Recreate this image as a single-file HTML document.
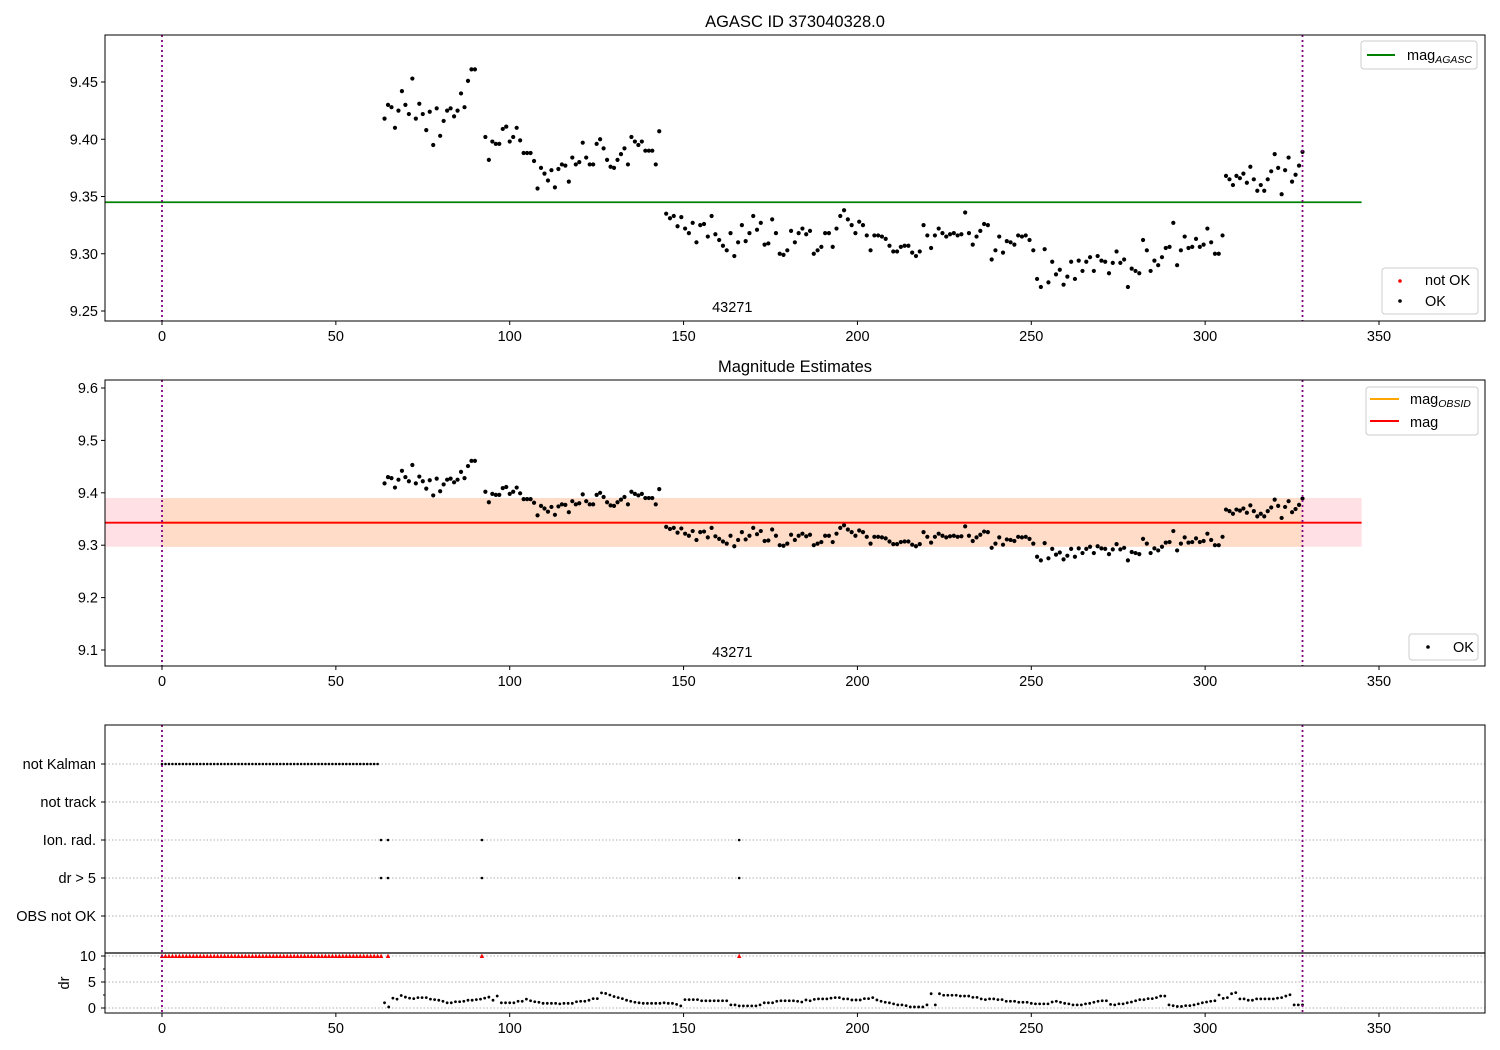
<!DOCTYPE html>
<html><head><meta charset="utf-8">
<style>
html,body{margin:0;padding:0;background:#fff;}
svg{display:block;font-family:"Liberation Sans","DejaVu Sans",sans-serif;}
</style></head>
<body>
<svg id="chart" width="1500" height="1050" viewBox="0 0 1500 1050" xmlns="http://www.w3.org/2000/svg"></svg>
<script>
// ---- data ----
const magSeg1 = [9.418,9.430,9.428,9.410,9.425,9.442,9.430,9.422,9.453,9.418,9.431,9.422,9.408,9.424,9.395,9.427,9.403,9.416,9.425,9.427,9.420,9.425,9.440,9.428,9.451,9.461,9.461];
const magSeg2 = [9.402,9.382,9.398,9.396,9.396,9.409,9.411,9.398,9.402,9.410,9.399,9.388,9.388,9.388,9.381,9.357,9.375,9.370,9.364,9.373,9.358,9.374,9.378,9.377,9.363,9.384,9.378,9.380,9.397,9.384,9.378,9.378,9.396,9.400,9.392,9.382,9.376,9.375,9.382,9.387,9.392,9.378,9.402,9.398,9.395,9.398,9.390,9.390,9.390,9.378,9.407];
const magSeg3 = [9.335,9.331,9.333,9.324,9.332,9.322,9.318,9.327,9.310,9.325,9.326,9.315,9.333,9.317,9.312,9.307,9.303,9.318,9.298,9.310,9.325,9.311,9.318,9.333,9.321,9.327,9.308,9.309,9.330,9.318,9.300,9.299,9.303,9.320,9.310,9.318,9.322,9.317,9.320,9.300,9.303,9.306,9.318,9.318,9.306,9.322,9.333,9.338,9.330,9.325,9.318,9.328,9.325,9.316,9.303,9.316,9.316,9.315,9.313,9.307,9.302,9.302,9.306,9.307,9.307,9.301,9.298,9.302,9.325,9.316,9.305,9.316,9.322,9.318,9.315,9.317,9.318,9.316,9.317,9.336,9.318,9.308,9.315,9.320,9.326,9.325,9.295,9.303,9.315,9.301,9.311,9.310,9.308,9.316,9.315,9.316,9.312,9.303,9.278,9.271,9.304,9.275,9.293,9.282,9.286,9.273,9.280,9.293,9.278,9.294,9.285,9.293,9.297,9.285,9.298,9.294,9.293,9.283,9.292,9.302,9.292,9.295,9.271,9.287,9.285,9.283,9.312,9.303,9.285,9.294,9.290,9.297,9.305,9.306,9.327,9.290,9.303,9.315,9.305,9.306,9.313,9.306,9.308,9.322,9.310,9.300,9.300,9.316];
const magSeg4 = [9.368,9.365,9.360,9.368,9.366,9.370,9.362,9.376,9.365,9.355,9.360,9.355,9.365,9.372,9.387,9.375,9.352,9.373,9.384,9.363,9.369,9.377,9.389];
const segStarts = [64, 93, 145, 306];
const segEnds = [90, 143, 305, 328];
const magAgasc = 9.345;
const magMean = 9.343;
const magLow = 9.297;
const magHigh = 9.390;
const obsStart = 0;
const obsEnd = 328;
const notKalmanStart = 0;
const notKalmanEnd = 62;
const ionRadTimes = [63, 65, 92, 166];
const drOver5Times = [63, 65, 92, 166];
const drHighTimes = [63, 65, 92, 166];
const drStart = 64;
const drEnd = 328;
const drValues = [1.0,0.2,1.9,1.7,2.4,2.1,1.9,1.8,2.0,2.0,2.0,1.7,1.6,1.5,1.3,1.0,1.0,1.2,1.2,1.3,1.5,1.5,1.6,1.7,1.9,2.1,1.5,2.3,1.0,1.0,1.0,1.0,1.3,1.3,1.7,1.4,1.2,1.1,0.9,0.9,0.9,0.9,0.8,0.9,0.9,0.9,1.2,1.3,1.3,1.5,1.8,1.8,2.9,2.8,2.5,2.2,2.0,1.8,1.5,1.3,1.1,1.0,0.9,0.9,0.9,0.9,0.9,1.0,0.9,0.9,0.7,0.4,1.6,1.6,1.6,1.6,1.4,1.4,1.4,1.4,1.4,1.4,1.4,0.6,0.6,0.4,0.4,0.4,0.4,0.4,0.6,1.0,1.0,
1.0,1.3,1.4,1.4,1.4,1.4,1.3,1.15,1.55,1.4,1.65,1.75,1.75,1.75,1.9,2.0,2.0,1.75,1.75,1.55,1.55,1.55,1.8,1.8,2.0,1.55,1.3,1.1,1.0,0.8,0.6,0.6,0.45,0.2,0.2,0.2,0.2,0.6,2.75,0.6,2.75,2.45,2.45,2.45,2.45,2.3,2.3,2.3,2.05,2.05,1.75,1.6,1.75,1.75,1.6,1.6,1.3,1.3,1.3,1.1,1.1,1.1,0.9,0.8,0.8,0.8,0.8,1.15,1.3,1.1,0.9,0.8,0.6,0.6,0.6,0.8,0.9,1.1,1.3,1.4,1.4,0.7,0.6,0.8,0.8,1.0,1.15,1.4,1.6,1.6,1.8,1.8,2.0,2.3,2.3,0.6,0.45,0.3,0.3,0.45,0.45,0.6,0.8,1.0,1.15,1.3,1.4,2.5,1.85,2.0,2.75,2.95,1.75,1.75,1.5,1.5,1.75,1.75,1.75,1.75,1.75,1.9,2.0,2.3,2.55,0.6,0.6,0.6];
const xTicks = [0, 50, 100, 150, 200, 250, 300, 350];
const y1Ticks = [9.25, 9.30, 9.35, 9.40, 9.45];
const y2Ticks = [9.1, 9.2, 9.3, 9.4, 9.5, 9.6];
const flagLabels = ["not Kalman", "not track", "Ion. rad.", "dr > 5", "OBS not OK"];
const drTicks = [0, 5, 10];

// ---- layout ----
const NS = "http://www.w3.org/2000/svg";
const svg = document.getElementById('chart');
const L = 105, R = 1485;
const FS = 14.5;
const xScale = v => 162 + (v) * (1379 - 162) / 350;
const y1 = v => 82 + (9.45 - v) * (311 - 82) / 0.2;
const y2 = v => 388 + (9.6 - v) * (650 - 388) / 0.5;
const yFlag = i => 764 + i * 38;
const yDr = v => 1008 - v * (1008 - 956) / 10;

function el(tag, attrs, parent) {
  const e = document.createElementNS(NS, tag);
  for (const k in attrs) e.setAttribute(k, attrs[k]);
  (parent || svg).appendChild(e);
  return e;
}
function txt(s, x, y, attrs, parent) {
  const t = el('text', Object.assign({x: x, y: y, 'font-size': FS, fill: '#000'}, attrs || {}), parent);
  t.textContent = s;
  return t;
}
function segXs(k, n) {
  const a = segStarts[k], b = segEnds[k];
  return i => (n > 1 ? a + i * (b - a) / (n - 1) : a);
}
const segs = [magSeg1, magSeg2, magSeg3, magSeg4];

function xAxis(g, yb) {
  xTicks.forEach(t => {
    const x = xScale(t);
    el('line', {x1: x, x2: x, y1: yb, y2: yb + 4, stroke: '#000', 'stroke-width': 1}, g);
    const lb = txt(String(t), x, yb + 20, {'text-anchor': 'middle'}, g);
    
    
  });
}
function vlines(g, top, bot) {
  [obsStart, obsEnd].forEach(t => {
    const ln = el('line', {x1: xScale(t), x2: xScale(t), y1: top, y2: bot, stroke: '#800080', 'stroke-width': 1.8, 'stroke-dasharray': '2,3'}, g);
    
    
  });
}
function magPoints(g, yf) {
  segs.forEach((arr, k) => {
    const xf = segXs(k, arr.length);
    arr.forEach((v, i) => {
      const c = el('circle', {cx: xScale(xf(i)), cy: yf(v), r: 2.1, fill: '#000'}, g);
      
      
    });
  });
}

// ---- panel 1 ----
const p1 = el('g', {}, svg);


txt('AGASC ID 373040328.0', 795, 27, {'text-anchor': 'middle', 'font-size': 16.5}, p1);
y1Ticks.forEach(t => {
  const y = y1(t);
  el('line', {x1: L - 4, x2: L, y1: y, y2: y, stroke: '#000'}, p1);
  txt(t.toFixed(2), L - 7, y + 5, {'text-anchor': 'end'}, p1);
});
const agl = el('line', {x1: xScale(-16.4), x2: xScale(345), y1: y1(magAgasc), y2: y1(magAgasc), stroke: '#008000', 'stroke-width': 1.8}, p1);


magPoints(p1, y1);
vlines(p1, 35, 321);
txt('43271', xScale(164), 312, {'text-anchor': 'middle'}, p1);
el('rect', {x: L, y: 35, width: R - L, height: 286, fill: 'none', stroke: '#000', 'stroke-width': 1}, p1);
xAxis(p1, 321);
// legends
const lg1 = el('g', {}, p1);


el('rect', {x: 1361, y: 41, width: 116, height: 28, rx: 3, fill: '#fff', stroke: '#ccc'}, lg1);
el('line', {x1: 1367, x2: 1395, y1: 55, y2: 55, stroke: '#008000', 'stroke-width': 2}, lg1);
const t1 = txt('mag', 1407, 60, {}, lg1);
el('tspan', {'font-size': 10.5, 'font-style': 'italic', dy: 3}, t1).textContent = 'AGASC';
const lg2 = el('g', {}, p1);


el('rect', {x: 1382, y: 268, width: 96, height: 46, rx: 3, fill: '#fff', stroke: '#ccc'}, lg2);
el('circle', {cx: 1400, cy: 281, r: 1.8, fill: '#f00'}, lg2);
txt('not OK', 1425, 285, {}, lg2);
el('circle', {cx: 1400, cy: 301, r: 1.8, fill: '#000'}, lg2);
txt('OK', 1425, 306, {}, lg2);

// ---- panel 2 ----
const p2 = el('g', {}, svg);


txt('Magnitude Estimates', 795, 372, {'text-anchor': 'middle', 'font-size': 16.5}, p2);
y2Ticks.forEach(t => {
  const y = y2(t);
  el('line', {x1: L - 4, x2: L, y1: y, y2: y, stroke: '#000'}, p2);
  txt(t.toFixed(1), L - 7, y + 5, {'text-anchor': 'end'}, p2);
});
const band1 = el('rect', {x: xScale(-16.4), y: y2(magHigh), width: xScale(345) - xScale(-16.4), height: y2(magLow) - y2(magHigh), fill: '#ffe0e4'}, p2);


const band2 = el('rect', {x: xScale(obsStart), y: y2(magHigh), width: xScale(obsEnd) - xScale(obsStart), height: y2(magLow) - y2(magHigh), fill: '#ffdcc8'}, p2);


el('line', {x1: xScale(obsStart), x2: xScale(obsEnd), y1: y2(magMean), y2: y2(magMean), stroke: '#ffa500', 'stroke-width': 1.8}, p2);
const ml = el('line', {x1: xScale(-16.4), x2: xScale(345), y1: y2(magMean), y2: y2(magMean), stroke: '#f00', 'stroke-width': 1.8}, p2);


magPoints(p2, y2);
vlines(p2, 380, 666);
txt('43271', xScale(164), 657, {'text-anchor': 'middle'}, p2);
el('rect', {x: L, y: 380, width: R - L, height: 286, fill: 'none', stroke: '#000'}, p2);
xAxis(p2, 666);
const lg3 = el('g', {}, p2);


el('rect', {x: 1366, y: 387, width: 112, height: 48, rx: 3, fill: '#fff', stroke: '#ccc'}, lg3);
el('line', {x1: 1370, x2: 1399, y1: 399, y2: 399, stroke: '#ffa500', 'stroke-width': 2}, lg3);
const t3 = txt('mag', 1410, 404, {}, lg3);
el('tspan', {'font-size': 10.5, 'font-style': 'italic', dy: 3}, t3).textContent = 'OBSID';
el('line', {x1: 1370, x2: 1399, y1: 421, y2: 421, stroke: '#f00', 'stroke-width': 2}, lg3);
txt('mag', 1410, 427, {}, lg3);
const lg4 = el('g', {}, p2);


el('rect', {x: 1409, y: 634, width: 69, height: 26, rx: 3, fill: '#fff', stroke: '#ccc'}, lg4);
el('circle', {cx: 1428, cy: 647, r: 1.8, fill: '#000'}, lg4);
txt('OK', 1453, 652, {}, lg4);

// ---- panel 3 ----
const p3 = el('g', {}, svg);


flagLabels.forEach((s, i) => {
  const y = yFlag(i);
  el('line', {x1: L, x2: R, y1: y, y2: y, stroke: '#b0b0b0', 'stroke-width': 1, 'stroke-dasharray': '1.5,2'}, p3);
  el('line', {x1: L - 4, x2: L, y1: y, y2: y, stroke: '#000'}, p3);
  const lb = txt(s, L - 9, y + 5, {'text-anchor': 'end'}, p3);
  
  
});
drTicks.forEach(t => {
  const y = yDr(t);
  el('line', {x1: L, x2: R, y1: y, y2: y, stroke: '#b0b0b0', 'stroke-width': 1, 'stroke-dasharray': '1.5,2'}, p3);
  el('line', {x1: L - 4, x2: L, y1: y, y2: y, stroke: '#000'}, p3);
  txt(String(t), L - 9, y + 5, {'text-anchor': 'end'}, p3);
});
[2.5, 7.5].forEach(t => el('line', {x1: L - 2, x2: L, y1: yDr(t), y2: yDr(t), stroke: '#000'}, p3));
const drLab = txt('dr', 69, 983, {'text-anchor': 'middle', transform: 'rotate(-90 69 983)'}, p3);

function tri(t) {
  const x = xScale(t), y = yDr(10);
  return `M${x - 2.2},${y + 2} L${x + 2.2},${y + 2} L${x},${y - 2.4} Z`;
}
for (let t = notKalmanStart; t <= notKalmanEnd; t++) {
  const c = el('circle', {cx: xScale(t), cy: yFlag(0), r: 1.3, fill: '#000'}, p3);
  
  
  const tr = el('path', {d: tri(t), fill: '#f00'}, p3);
  
  
}
drHighTimes.forEach(t => {
  const tr = el('path', {d: tri(t), fill: '#f00'}, p3);
  
  
});
ionRadTimes.forEach(t => {
  const c = el('circle', {cx: xScale(t), cy: yFlag(2), r: 1.3, fill: '#000'}, p3);
  
  
});
drOver5Times.forEach(t => {
  const c = el('circle', {cx: xScale(t), cy: yFlag(3), r: 1.3, fill: '#000'}, p3);
  
  
});
drValues.forEach((v, i) => {
  const t = drStart + i * (drEnd - drStart) / (drValues.length - 1);
  const c = el('circle', {cx: xScale(t), cy: yDr(v), r: 1.4, fill: '#000'}, p3);
  
  
});
vlines(p3, 725, 1013);
el('rect', {x: L, y: 725, width: R - L, height: 288, fill: 'none', stroke: '#000'}, p3);
el('line', {x1: L, x2: R, y1: 953, y2: 953, stroke: '#000', 'stroke-width': 1.2}, p3);
xAxis(p3, 1013);
</script>
</body></html>
